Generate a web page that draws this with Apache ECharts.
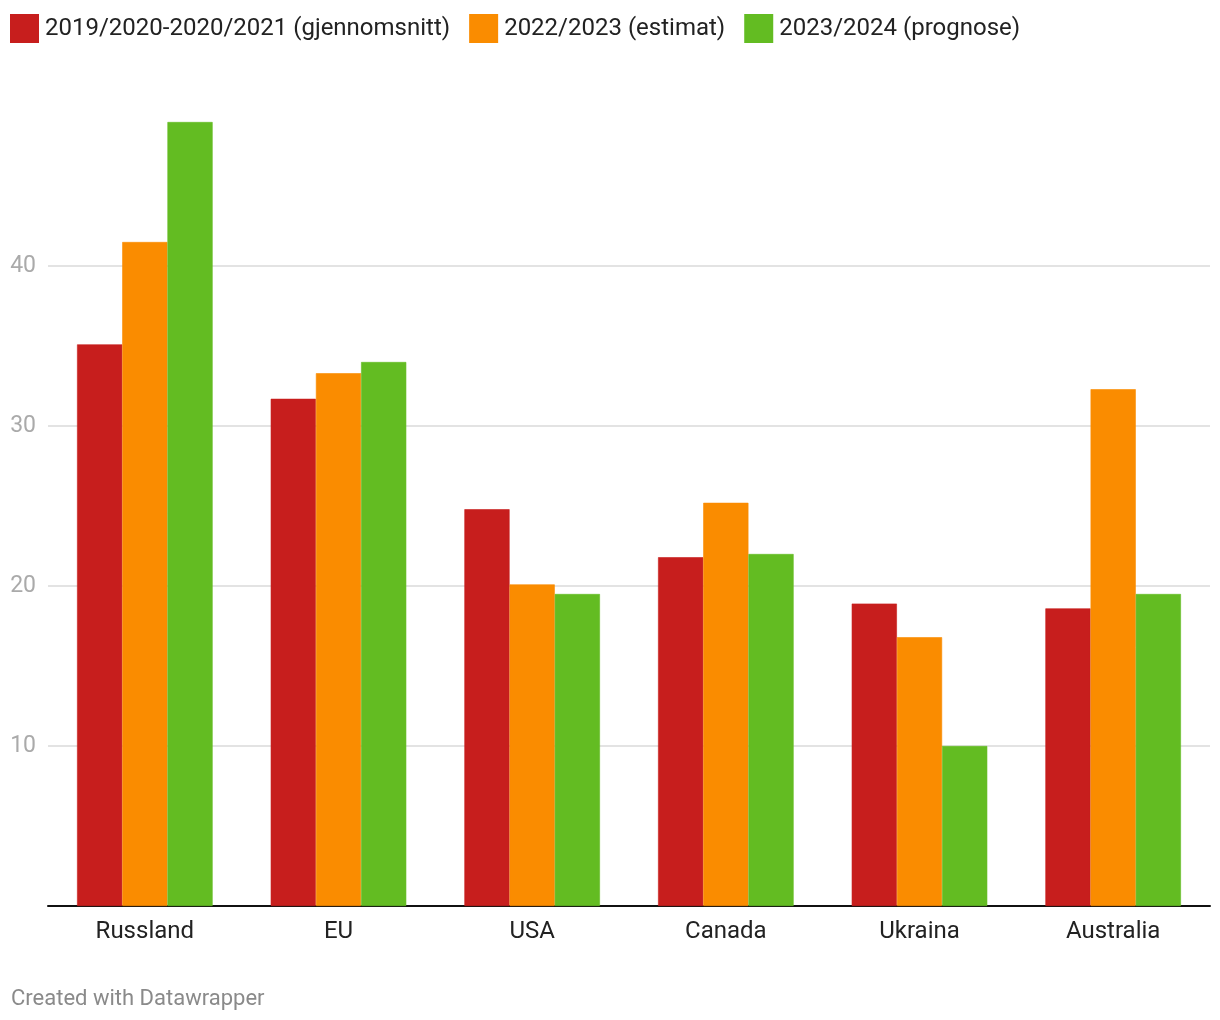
<!DOCTYPE html>
<html>
<head>
<meta charset="utf-8">
<style>
html,body{margin:0;padding:0;background:#fff;}
#chart{width:1220px;height:1020px;}
</style>
<script src="https://cdn.jsdelivr.net/npm/echarts@6/dist/echarts.min.js"></script>
</head>
<body>
<div id="chart"></div>
<script>
const categories = ['Russland', 'EU', 'USA', 'Canada', 'Ukraina', 'Australia'];
const seriesNames = ['2019/2020-2020/2021 (gjennomsnitt)', '2022/2023 (estimat)', '2023/2024 (prognose)'];
const avg2019_2021 = [35.1, 31.7, 24.8, 21.8, 18.9, 18.6];
const est2022_2023 = [41.5, 33.3, 20.1, 25.2, 16.8, 32.3];
const prog2023_2024 = [49.0, 34.0, 19.5, 22.0, 10.0, 19.5];
const colors = ['#c71e1d', '#fa8c00', '#63bc22'];

const chart = echarts.init(document.getElementById('chart'), null, {renderer: 'canvas'});
const font = 'Roboto, "Noto Sans", sans-serif';
const values = [avg2019_2021, est2022_2023, prog2023_2024];

chart.setOption({
  animation: false,
  backgroundColor: '#ffffff',
  textStyle: {fontFamily: font},
  legend: {
    left: 10, top: 14, padding: 0,
    itemWidth: 27, itemHeight: 27, itemGap: 19,
    icon: 'rect',
    textStyle: {fontFamily: font, fontSize: 24, color: '#222', padding: [0, 0, 0, 2]},
    data: seriesNames
  },
  grid: {left: 48, right: 10, top: 106, bottom: 114, containLabel: false},
  xAxis: {
    type: 'category',
    data: categories,
    axisLine: {show: true, lineStyle: {color: '#111', width: 2}},
    axisTick: {show: false},
    axisLabel: {fontFamily: font, fontSize: 24, color: '#222', margin: 14}
  },
  yAxis: {
    type: 'value',
    min: 0, max: 50, interval: 10,
    axisLine: {show: false},
    axisTick: {show: false},
    axisLabel: {
      fontFamily: font, fontSize: 23, color: '#aaaaaa', margin: 12,
      formatter: v => (v === 0 || v === 50) ? '' : String(v)
    },
    splitLine: {show: true, showMinLine: false, showMaxLine: false, lineStyle: {color: '#e3e3e3', width: 2}}
  },
  series: seriesNames.map((name, i) => ({
    name: name,
    type: 'bar',
    data: values[i],
    barGap: 0,
    barCategoryGap: '30%',
    itemStyle: {color: colors[i], borderColor: colors[i], borderWidth: 0.6},
    emphasis: {disabled: true}
  })),
  graphic: [{
    type: 'text', left: 11, top: 988,
    style: {text: 'Created with Datawrapper', fontFamily: font, fontSize: 22, fill: '#8a8a8a'}
  }]
});
</script>
</body>
</html>
